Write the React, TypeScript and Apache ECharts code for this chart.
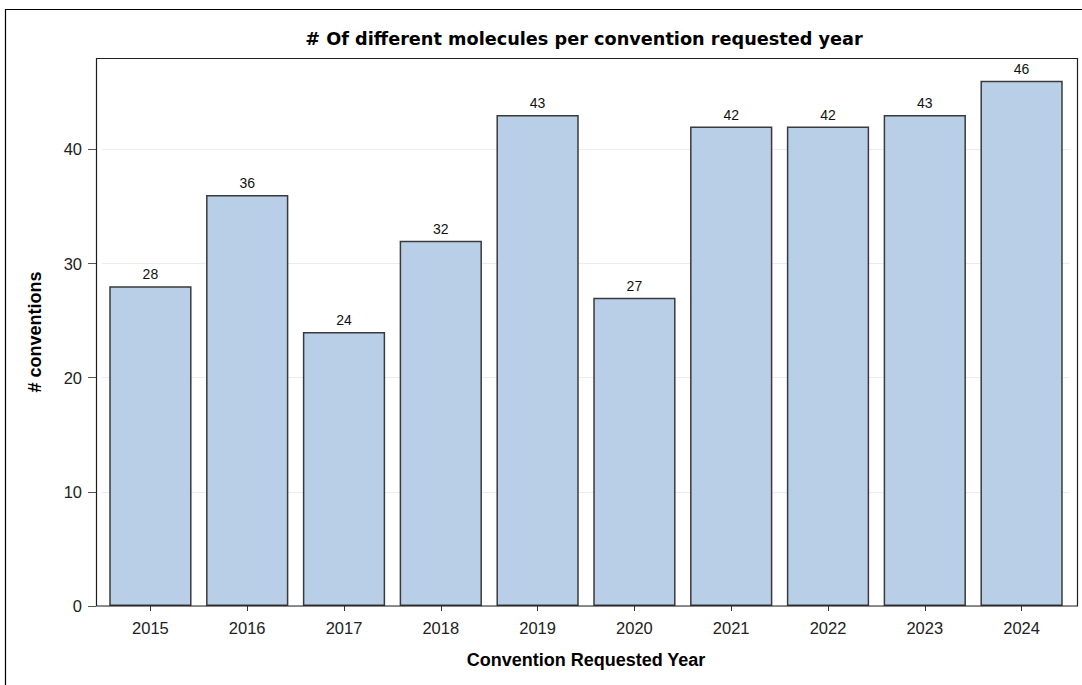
import React, { useEffect, useRef } from "react";
import * as echarts from "echarts";

const categories = ["2015", "2016", "2017", "2018", "2019", "2020", "2021", "2022", "2023", "2024"];
const values = [28, 36, 24, 32, 43, 27, 42, 42, 43, 46];
const yTicks = [0, 10, 20, 30, 40];

const titleText = "# Of different molecules per convention requested year";
const xTitle = "Convention Requested Year";
const yTitle = "# conventions";

const SANS = "'Liberation Sans', Arial, sans-serif";

export default function App() {
  const ref = useRef<HTMLDivElement>(null);
  useEffect(() => {
    if (!ref.current) return;
    const chart = echarts.init(ref.current, undefined, { renderer: "svg" });
    chart.setOption({
      animation: false,
      backgroundColor: "#ffffff",
      title: {
        text: titleText,
        left: 579,
        textAlign: "center",
        top: 25,
        textStyle: {
          fontFamily: "'DejaVu Sans', Verdana, sans-serif",
          fontWeight: "bold",
          fontSize: 17.7,
          color: "#000",
        },
      },
      graphic: [
        {
          type: "rect",
          shape: { x: 5.5, y: 9.5, width: 1100, height: 700 },
          style: { fill: "none", stroke: "#000", lineWidth: 1.2 },
          silent: true,
        },
        {
          type: "rect",
          shape: { x: 96.5, y: 58.5, width: 981, height: 547.5 },
          style: { fill: "none", stroke: "#1e1e1e", lineWidth: 1.2 },
          silent: true,
          z: 100,
        },
      ],
      grid: { left: 102, right: 12, top: 58, bottom: 79, containLabel: false },
      xAxis: {
        type: "category",
        data: categories,
        boundaryGap: true,
        name: xTitle,
        nameLocation: "middle",
        nameGap: 45,
        nameTextStyle: { fontFamily: SANS, fontWeight: "bold", fontSize: 18, color: "#000" },
        axisLine: { show: false },
        axisTick: { show: true, alignWithLabel: true, length: 5, lineStyle: { color: "#333" } },
        axisLabel: { fontFamily: SANS, fontSize: 16.5, color: "#222", margin: 13 },
        splitLine: { show: false },
      },
      yAxis: {
        type: "value",
        min: 0,
        max: 48,
        interval: 10,
        offset: 6,
        name: yTitle,
        nameLocation: "middle",
        nameGap: 52,
        nameRotate: 90,
        nameTextStyle: { fontFamily: SANS, fontWeight: "bold", fontSize: 18, color: "#000" },
        axisLine: { show: false },
        axisTick: { show: true, length: 8, customValues: yTicks, lineStyle: { color: "#555" } },
        axisLabel: { fontFamily: SANS, fontSize: 16.5, color: "#222", margin: 14, customValues: yTicks },
        splitLine: { show: true, lineStyle: { color: "#ececec", width: 1 } },
      },
      series: [
        {
          type: "bar",
          data: values,
          barCategoryGap: "15%",
          itemStyle: { color: "#b9cfe7", borderColor: "#3a3a3a", borderWidth: 1.5 },
          label: {
            show: true,
            position: "top",
            distance: 5,
            fontFamily: SANS,
            fontSize: 14,
            color: "#111",
          },
        },
      ],
    });
    return () => chart.dispose();
  }, []);
  return (
    <div
      ref={ref}
      style={{ position: "fixed", left: 0, top: 0, width: 1082, height: 685 }}
    />
  );
}
